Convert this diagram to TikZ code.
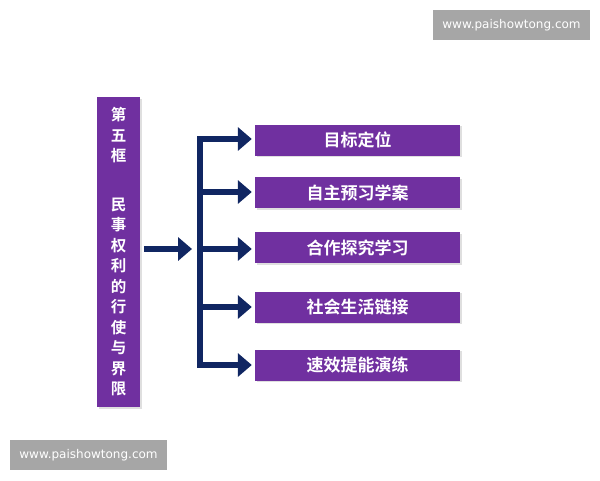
\documentclass[tikz,border=0pt]{standalone}
\usepackage{fontspec}
\setmainfont{Noto Sans CJK SC}[BoldFont={Noto Sans CJK SC Bold}]
\newfontfamily\wmfont{DejaVu Sans}
\usetikzlibrary{arrows.meta,shadows}
\definecolor{boxpurple}{RGB}{112,48,160}
\definecolor{navy}{RGB}{16,38,98}
\definecolor{wmgrey}{RGB}{166,166,166}
\begin{document}
\begin{tikzpicture}[x=1pt,y=-1pt,
  pbox/.style={fill=boxpurple,draw=none,inner sep=0pt,
    drop shadow={shadow xshift=1.5pt,shadow yshift=-1.5pt,opacity=0.25}},
  itembox/.style={pbox,minimum width=205pt,minimum height=31pt,
    text=white,font=\fontsize{17}{19}\selectfont\bfseries},
  fat/.style={draw=navy,line width=6.5pt,line join=miter,
    arrows={-{Triangle[length=14pt,width=23pt]}}},
  wm/.style={fill=wmgrey,text=white,minimum width=157pt,minimum height=30pt,
    inner sep=0pt,font=\wmfont\fontsize{12}{14}\selectfont}]
\useasboundingbox (0,0) rectangle (600,480);
\fill[white] (0,0) rectangle (600,480);
% watermarks
\node[wm] (wm1) at (511.5,25) {www.paishowtong.com};
\node[wm] (wm2) at (88.5,455) {www.paishowtong.com};
% left title box
\node[pbox,minimum width=43pt,minimum height=310pt,text=white,align=center,
  font=\fontsize{15.5}{20.5}\selectfont\bfseries] (title) at (118.5,252)
  {第\\五\\框\\[28pt]民\\事\\权\\利\\的\\行\\使\\与\\界\\限};
% item boxes
\node[itembox] (b1) at (357.5,140) {目标定位};
\node[itembox] (b2) at (357.5,192.5) {自主预习学案};
\node[itembox] (b3) at (357.5,247.5) {合作探究学习};
\node[itembox] (b4) at (357.5,307) {社会生活链接};
\node[itembox] (b5) at (357.5,365) {速效提能演练};
% hub coordinates
\coordinate (hub) at (200,249);
\coordinate (top) at (200,139);
\coordinate (bot) at (200,365);
% connectors
\draw[fat,shorten <=4pt,shorten >=8pt] (title.east |- hub) -- (hub);
\draw[fat,arrows={{Triangle[length=14pt,width=23pt]}-{Triangle[length=14pt,width=23pt]}},
  shorten <=3pt,shorten >=3pt] (b1.west |- top) -- (top) -- (bot) -- (b5.west |- bot);
\draw[fat,shorten >=3pt] (200,192) -- (b2.west |- 0,192);
\draw[fat,shorten >=3pt] (hub) -- (b3.west |- hub);
\draw[fat,shorten >=3pt] (200,307) -- (b4.west |- 0,307);
\end{tikzpicture}
\end{document}
